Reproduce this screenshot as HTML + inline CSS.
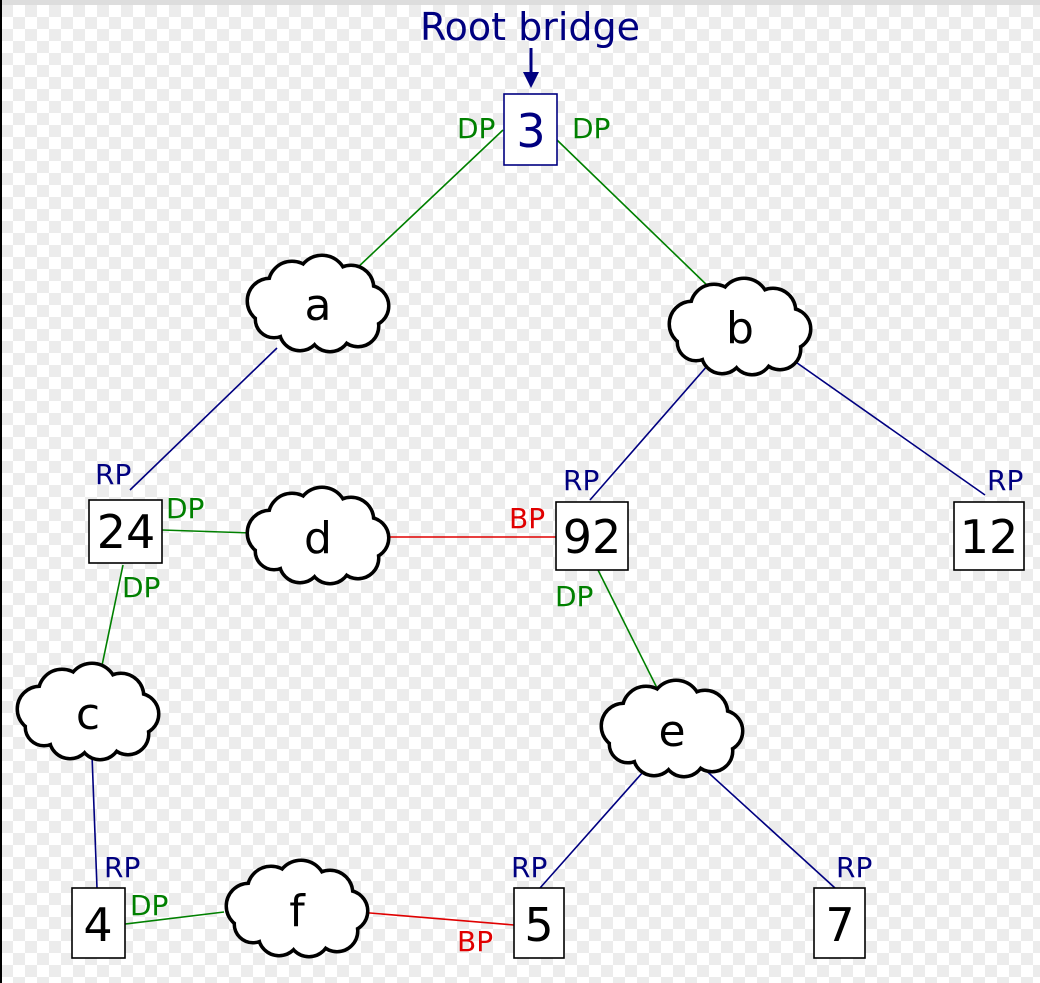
<!DOCTYPE html>
<html><head><meta charset="utf-8"><style>
html,body{margin:0;padding:0;}
body{width:1040px;height:983px;overflow:hidden;background:#fff;}
svg{display:block;}
text{font-family:"DejaVu Sans","Liberation Sans",sans-serif;}
</style></head><body>
<svg width="1040" height="983" viewBox="0 0 1040 983" xmlns="http://www.w3.org/2000/svg">
<defs>
<pattern id="ck" x="1" y="5" width="24" height="24" patternUnits="userSpaceOnUse">
<rect width="24" height="24" fill="#fff"/>
<rect width="12" height="12" fill="#ececec"/>
<rect x="12" y="12" width="12" height="12" fill="#ececec"/>
</pattern>
<g id="cc">
<circle cx="-48" cy="-4" r="21"/>
<circle cx="-26" cy="-20" r="22"/>
<circle cx="4" cy="-25" r="23"/>
<circle cx="33" cy="-17" r="21"/>
<circle cx="50" cy="1" r="19"/>
<circle cx="40" cy="21" r="19"/>
<circle cx="12" cy="26" r="19"/>
<circle cx="-18" cy="25" r="19"/>
<circle cx="-44" cy="14" r="17"/>
<circle cx="0" cy="0" r="32"/>
</g>
<g id="cloud">
<use href="#cc" fill="#000" stroke="#000" stroke-width="7"/>
<use href="#cc" fill="#fff" stroke="none"/>
</g>
</defs>
<rect width="1040" height="983" fill="url(#ck)"/>
<rect x="0" y="0" width="1040" height="5" fill="#ddd"/>
<rect x="0" y="0" width="2" height="983" fill="#000"/>

<g stroke-width="1.6" fill="none">
<line x1="503" y1="130" x2="355" y2="270" stroke="#008000"/>
<line x1="557" y1="140" x2="712" y2="290" stroke="#008000"/>
<line x1="277" y1="348" x2="130" y2="490" stroke="#000080"/>
<line x1="708" y1="365" x2="590" y2="500" stroke="#000080"/>
<line x1="790" y1="358" x2="985" y2="495" stroke="#000080"/>
<line x1="162" y1="530" x2="252" y2="533" stroke="#008000"/>
<line x1="385" y1="537" x2="556" y2="537" stroke="#e00000"/>
<line x1="123" y1="565" x2="100" y2="675" stroke="#008000"/>
<line x1="92" y1="755" x2="97" y2="888" stroke="#000080"/>
<line x1="125" y1="924" x2="224" y2="912" stroke="#008000"/>
<line x1="358" y1="912" x2="514" y2="925" stroke="#e00000"/>
<line x1="598" y1="570" x2="658" y2="690" stroke="#008000"/>
<line x1="643" y1="772" x2="540" y2="888" stroke="#000080"/>
<line x1="700" y1="765" x2="835" y2="888" stroke="#000080"/>
</g>

<use href="#cloud" transform="translate(318,305)"/>
<use href="#cloud" transform="translate(740,328)"/>
<use href="#cloud" transform="translate(318,537)"/>
<use href="#cloud" transform="translate(88,713)"/>
<use href="#cloud" transform="translate(672,730)"/>
<use href="#cloud" transform="translate(297,910)"/>

<g font-size="44" text-anchor="middle" fill="#000">
<text x="318" y="320">a</text>
<text x="740" y="343">b</text>
<text x="318" y="553">d</text>
<text x="88" y="729">c</text>
<text x="672" y="746">e</text>
<text x="297" y="926">f</text>
</g>

<g fill="#fff" stroke-width="1.6">
<rect x="504" y="94" width="53" height="71" stroke="#000080"/>
<rect x="89" y="500" width="73" height="63" stroke="#000"/>
<rect x="556" y="502" width="72" height="68" stroke="#000"/>
<rect x="954" y="502" width="70" height="68" stroke="#000"/>
<rect x="72" y="888" width="53" height="70" stroke="#000"/>
<rect x="514" y="888" width="50" height="70" stroke="#000"/>
<rect x="814" y="888" width="51" height="70" stroke="#000"/>
</g>
<g font-size="46" text-anchor="middle">
<text x="531" y="147" fill="#000080">3</text>
<text x="126" y="548" fill="#000">24</text>
<text x="592" y="553" fill="#000">92</text>
<text x="989" y="553" fill="#000">12</text>
<text x="98" y="941" fill="#000">4</text>
<text x="539" y="941" fill="#000">5</text>
<text x="840" y="941" fill="#000">7</text>
</g>

<text x="530" y="40" font-size="38" text-anchor="middle" fill="#000080">Root bridge</text>
<line x1="531" y1="48" x2="531" y2="80" stroke="#000080" stroke-width="3"/>
<polygon points="523,72 539,72 531,88" fill="#000080"/>

<g font-size="28">
<g fill="#008000">
<text x="457" y="138">DP</text>
<text x="572" y="138">DP</text>
<text x="166" y="518">DP</text>
<text x="122" y="597">DP</text>
<text x="555" y="606">DP</text>
<text x="130" y="915">DP</text>
</g>
<g fill="#000080">
<text x="95" y="484">RP</text>
<text x="563" y="490">RP</text>
<text x="987" y="490">RP</text>
<text x="104" y="877">RP</text>
<text x="511" y="877">RP</text>
<text x="836" y="877">RP</text>
</g>
<g fill="#e00000">
<text x="509" y="528">BP</text>
<text x="457" y="951">BP</text>
</g>
</g>
</svg>
</body></html>
